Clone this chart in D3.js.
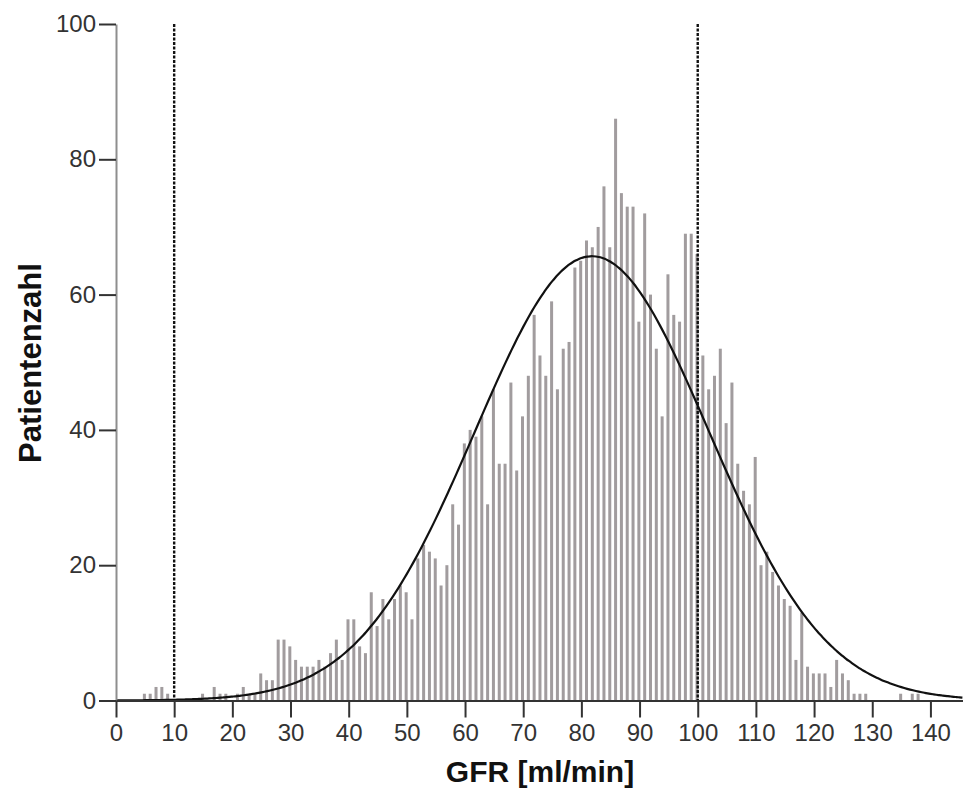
<!DOCTYPE html>
<html>
<head>
<meta charset="utf-8">
<script src="https://cdn.jsdelivr.net/npm/d3@7"></script>
<style>
  body { margin: 0; background: #fff; }
  svg { display: block; }
  .axis text { font-family: "Liberation Sans", Arial, sans-serif; font-size: 24px; fill: #333; }
</style>
</head>
<body>
<svg id="chart" width="963" height="791"></svg>
<script>
// GFR bins (1 ml/min wide) and patient counts
var gfrBins = d3.range(0, 139);
var patientCounts = [
  0, 0, 0, 0, 0, 1, 1, 2, 2, 1,
  0, 0, 0, 0, 0, 1, 0, 2, 1, 1,
  0, 1, 2, 1, 1, 4, 3, 3, 9, 9,
  8, 6, 5, 5, 5, 6, 5, 7, 9, 6,
  12, 12, 8, 7, 16, 11, 15, 12, 15, 17,
  16, 12, 21, 23, 22, 21, 17, 20, 29, 26,
  38, 40, 39, 42, 29, 46, 35, 35, 47, 34,
  42, 48, 57, 51, 48, 59, 46, 52, 53, 64,
  65, 68, 67, 70, 76, 67, 86, 75, 73, 73,
  56, 72, 60, 52, 42, 63, 57, 56, 69, 69,
  66, 51, 46, 48, 52, 41, 47, 35, 31, 29,
  36, 20, 22, 19, 17, 15, 14, 6, 13, 5,
  4, 4, 4, 2, 6, 4, 3, 1, 1, 1,
  0, 0, 0, 0, 0, 1, 0, 1, 1
];
var xTicks = [0, 10, 20, 30, 40, 50, 60, 70, 80, 90, 100, 110, 120, 130, 140];
var yTicks = [0, 20, 40, 60, 80, 100];
var refLines = [10, 100];

var svg = d3.select('#chart');

var x = d3.scaleLinear().domain([0, 145.6]).range([116, 963]);
var y = d3.scaleLinear().domain([0, 100]).range([700.5, 24]);

var data = gfrBins.map(function(v, i){ return {gfr: v, n: patientCounts[i]}; });

// bars
svg.append('g')
  .selectAll('rect')
  .data(data.filter(function(d){ return d.n > 0; }))
  .enter().append('rect')
  .attr('x', function(d){ return x(d.gfr) - 2.2; })
  .attr('width', 3)
  .attr('y', function(d){ return y(d.n); })
  .attr('height', function(d){ return y(0) - y(d.n); })
  .attr('fill', '#a19c9e');

// normal curve fitted to the data (SPSS style)
var total = d3.sum(data, function(d){ return d.n; });
var mean = d3.sum(data, function(d){ return d.gfr * d.n; }) / total;
var variance = d3.sum(data, function(d){ return d.n * (d.gfr - mean) * (d.gfr - mean); }) / (total - 1);
var sd = Math.sqrt(variance);
var curvePts = d3.range(0, 145.61, 0.5).map(function(v){
  return {gfr: v, n: total / (sd * Math.sqrt(2 * Math.PI)) * Math.exp(-0.5 * Math.pow((v - mean) / sd, 2))};
});

// reference lines
svg.append('g')
  .selectAll('line')
  .data(refLines)
  .enter().append('line')
  .attr('x1', function(d){ return x(d); })
  .attr('x2', function(d){ return x(d); })
  .attr('y1', y(100))
  .attr('y2', y(0))
  .attr('stroke', '#111')
  .attr('stroke-width', 2.4)
  .attr('stroke-dasharray', '3,1.5');

svg.append('path')
  .datum(curvePts)
  .attr('fill', 'none')
  .attr('stroke', '#111')
  .attr('stroke-width', 2.2)
  .attr('d', d3.line()
    .x(function(d){ return x(d.gfr); })
    .y(function(d){ return y(d.n); })
    .curve(d3.curveBasis));

// axes
var yAxis = svg.append('g')
  .attr('class', 'axis')
  .attr('transform', 'translate(116,0)')
  .call(d3.axisLeft(y).tickValues(yTicks).tickSize(17).tickSizeOuter(0).tickPadding(3));
yAxis.select('.domain').attr('stroke', '#8e8e8e').attr('stroke-width', 2);
yAxis.selectAll('.tick line').attr('stroke', '#333').attr('stroke-width', 2);

var xAxis = svg.append('g')
  .attr('class', 'axis')
  .attr('transform', 'translate(0,' + y(0) + ')')
  .call(d3.axisBottom(x).tickValues(xTicks).tickSize(17).tickSizeOuter(0).tickPadding(6));
xAxis.select('.domain').attr('stroke', '#333').attr('stroke-width', 2);
xAxis.selectAll('.tick line').attr('stroke', '#333').attr('stroke-width', 2);

// axis titles
svg.append('text')
  .attr('x', 540)
  .attr('y', 782)
  .attr('text-anchor', 'middle')
  .attr('font-family', '"Liberation Sans", Arial, sans-serif')
  .attr('font-weight', 'bold')
  .attr('font-size', '30px')
  .attr('fill', '#111')
  .text('GFR [ml/min]');

svg.append('text')
  .attr('transform', 'translate(41,363) rotate(-90)')
  .attr('text-anchor', 'middle')
  .attr('font-family', '"Liberation Sans", Arial, sans-serif')
  .attr('font-weight', 'bold')
  .attr('font-size', '31px')
  .attr('fill', '#111')
  .text('Patientenzahl');
</script>
</body>
</html>
